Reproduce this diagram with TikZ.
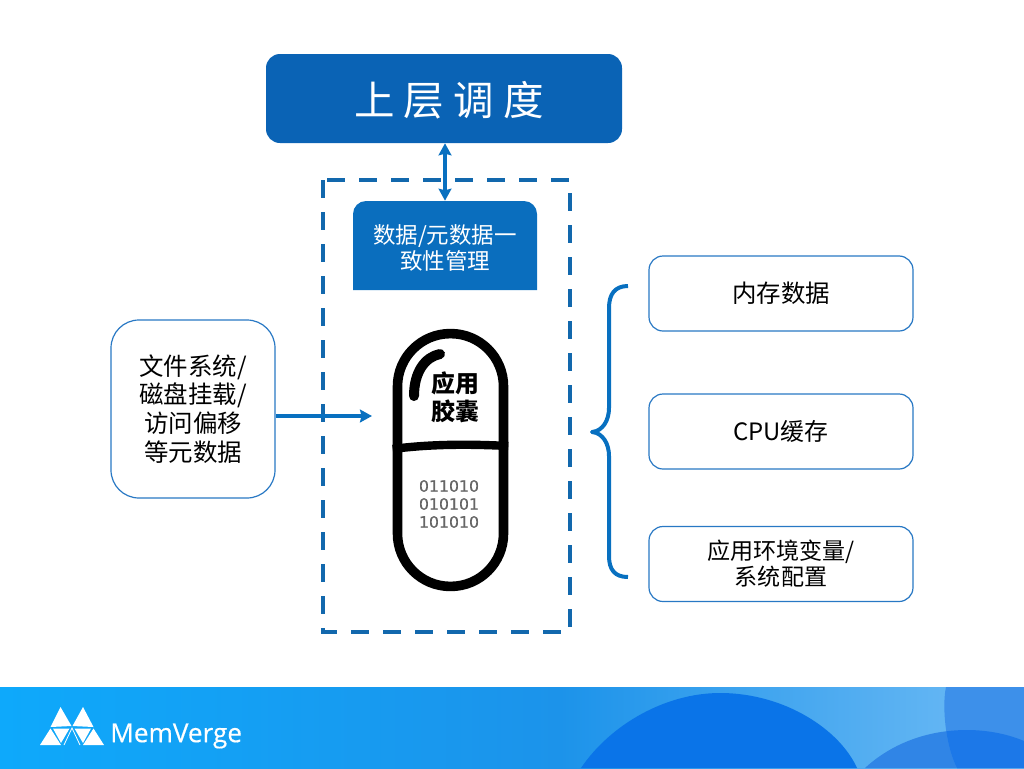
\documentclass[tikz,border=0pt]{standalone}
\usepackage{fontspec}
\setmainfont{Noto Sans CJK SC}
\newfontfamily\bitfont[FakeBold=0.3]{DejaVu Sans}
\newfontfamily\logofont[FakeBold=0.4]{Open Sans}
\usetikzlibrary{arrows.meta,positioning}
\definecolor{topblue}{RGB}{10,99,181}
\definecolor{midblue}{RGB}{10,110,190}
\definecolor{dashblue}{RGB}{18,104,173}
\definecolor{linkblue}{RGB}{8,112,192}
\definecolor{edgeblue}{RGB}{40,120,196}
\definecolor{foota}{RGB}{14,169,251}
\definecolor{footb}{RGB}{28,147,234}
\definecolor{footc}{RGB}{112,188,245}
\definecolor{hilla}{RGB}{10,116,232}
\definecolor{hillb}{RGB}{48,133,230}
\definecolor{hillc}{RGB}{61,144,234}
\definecolor{hilld}{RGB}{28,120,232}
\tikzset{
  >={Stealth[length=3mm,width=3.2mm,inset=0.4mm]},
  infobox/.style={draw=edgeblue,line width=0.3mm,fill=white,rounded corners=3.5mm,
    minimum width=66mm,minimum height=18.75mm,inner sep=0pt,align=center,
    font=\fontsize{17.4}{20.5}\selectfont},
  flow/.style={<->,draw=linkblue,line width=0.95mm},
  flowone/.style={->,draw=linkblue,line width=0.9mm},
  pilltext/.style={font=\fontsize{17}{20}\selectfont\bfseries,align=center,inner sep=0pt},
}
\begin{document}
\begin{tikzpicture}[x=0.25mm,y=-0.25mm]
  \useasboundingbox (0,0) rectangle (1024,768);
  % footer
  \shade[left color=foota,right color=footb] (0,687) rectangle (560.5,768);
  \shade[left color=footb,right color=footc] (560,687) rectangle (1024,768);
  \fill[hilla] (581,768) .. controls (610,725) and (665,693) .. (720,693) .. controls (785,693) and (840,730) .. (857,768) -- cycle;
  \fill[hillb] (865,768) .. controls (890,745) and (925,730) .. (967,730) .. controls (990,730) and (1010,735) .. (1024,741) -- (1024,768) -- cycle;
  \fill[hillc] (946,687) .. controls (942,705) and (945,745) .. (957,768) -- (1024,768) -- (1024,687) -- cycle;
  \begin{scope}
    \clip (946,687) .. controls (942,705) and (945,745) .. (957,768) -- (1024,768) -- (1024,687) -- cycle;
    \fill[hilld] (865,768) .. controls (890,745) and (925,730) .. (967,730) .. controls (990,730) and (1010,735) .. (1024,741) -- (1024,768) -- cycle;
  \end{scope}
  % logo
  \fill[white] (60.5,707) -- (71.5,726) -- (50.5,727) -- cycle;
  \fill[white] (83,707) -- (93.5,727) -- (72.5,726) -- cycle;
  \fill[white] (50.5,728.5) -- (61,745) -- (40,745) -- cycle;
  \fill[white] (93.5,728.5) -- (104,745) -- (83,745) -- cycle;
  \fill[white] (53,728.5) -- (69.5,728.5) -- (61,743) -- cycle;
  \fill[white] (74.5,728.5) -- (91,728.5) -- (83,743) -- cycle;
  \draw[white,line width=0.2mm] (64,745) -- (72,728) -- (80,745);
  \node[text=white,inner sep=0pt,anchor=west,font=\logofont\fontsize{18.6}{24}\selectfont] (logo) at (110,736) {MemVerge};
  % boxes
  \node[fill=topblue,rounded corners=3.5mm,minimum width=89mm,minimum height=22.25mm,inner sep=0pt] (sched) at (444,98.5) {};
  \node[text=white,inner sep=0pt,font=\fontsize{28.8}{32}\selectfont] (schedtext) at (449,100) {上 层 调 度};
  \draw[dashblue,line width=1.2mm,dash pattern=on 4.6mm off 3.4mm] (323,180) rectangle (570,632);
  \fill[midblue,rounded corners=3.25mm] (353,290) [sharp corners] -- (353,290) [rounded corners=3.25mm] -- (353,201) -- (537,201) [sharp corners] -- (537,290) -- cycle;
  \node[minimum width=46mm,minimum height=23.25mm,inner sep=0pt,text=white,align=center,font=\fontsize{16}{18.5}\selectfont] (sync) at (445,247.5) {数据/元数据一\\致性管理};
  \draw[flow] (sched.south -| sync.north) -- (sync.north);
  \node[infobox,minimum width=41mm,minimum height=44.5mm,rounded corners=7mm] (meta) at (193,409) {文件系统/\\磁盘挂载/\\访问偏移\\等元数据};
  \coordinate (pillin) at (372,416);
  \draw[flowone] (meta.east |- pillin) -- (pillin);
  \node[infobox] (mem) at (781,293.5) {内存数据};
  \node[infobox,font=\fontsize{17}{20.5}\selectfont] (cpu) at (781,431.5) {CPU缓存};
  \node[infobox,font=\fontsize{16.4}{18.5}\selectfont] (env) at (781,564) {应用环境变量/\\系统配置};
  % brace
  \draw[linkblue,line width=1mm,line join=round] (628,286) .. controls (615,286) and (609,294) .. (609,308) -- (609,408) .. controls (609,420) and (603,431) .. (592,432) .. controls (603,433) and (609,444) .. (609,456) -- (609,556) .. controls (609,570) and (615,577) .. (628,577);
  % capsule
  \node[draw=black,line width=2.4mm,rounded corners=13.2mm,minimum width=26.5mm,minimum height=63.2mm,inner sep=0pt] (pill) at (450.5,460) {};
  \draw[black,line width=2.1mm] (pill.west |- 0,449) .. controls (430,444) and (470,444) .. (pill.east |- 0,446);
  \draw[black,line width=2.5mm,line cap=round] (440,354) .. controls (425,357) and (414,372) .. (414,396);
  \node[pilltext] (pilla) at (455,383) {应用};
  \node[pilltext] (pillb) at (455,411) {胶囊};
  \node[text=black!60,inner sep=0pt,align=center,font=\bitfont\fontsize{11.2}{12.8}\selectfont] (bits) at (449,504) {011010\\010101\\101010};
\end{tikzpicture}
\end{document}
